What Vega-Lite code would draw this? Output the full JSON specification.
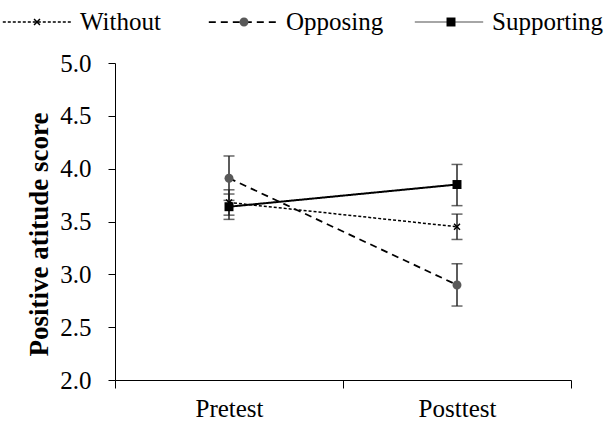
{
  "$schema": "https://vega.github.io/schema/vega-lite/v6.json",
  "width": 456,
  "height": 317,
  "autosize": "none",
  "padding": {"left": 115, "top": 63, "right": 40, "bottom": 43},
  "background": "white",
  "config": {
    "font": "Liberation Serif",
    "view": {"stroke": null},
    "axis": {"grid": false, "domainColor": "black", "tickColor": "black", "labelColor": "black", "titleColor": "black", "labelFont": "Liberation Serif", "titleFont": "Liberation Serif"},
    "legend": {"labelColor": "black", "labelFont": "Liberation Serif"}
  },
  "data": {
    "values": [
      {"group": "Without", "time": "Pretest", "mean": 3.68, "lower": 3.56, "upper": 3.80},
      {"group": "Without", "time": "Posttest", "mean": 3.45, "lower": 3.33, "upper": 3.57},
      {"group": "Opposing", "time": "Pretest", "mean": 3.91, "lower": 3.70, "upper": 4.12},
      {"group": "Opposing", "time": "Posttest", "mean": 2.90, "lower": 2.70, "upper": 3.10},
      {"group": "Supporting", "time": "Pretest", "mean": 3.64, "lower": 3.52, "upper": 3.76},
      {"group": "Supporting", "time": "Posttest", "mean": 3.85, "lower": 3.65, "upper": 4.04}
    ]
  },
  "encoding": {
    "x": {
      "field": "time", "type": "nominal",
      "scale": {"type": "band", "domain": ["Pretest", "Posttest"], "paddingInner": 0, "paddingOuter": 0},
      "axis": {"title": null, "labelAngle": 0, "tickBand": "extent", "tickSize": 8, "labelFontSize": 25, "labelPadding": 8, "domainWidth": 1}
    }
  },
  "layer": [
    {
      "mark": {"type": "errorbar", "ticks": {"size": 11, "thickness": 1.5, "color": "#262626"}, "rule": {"strokeWidth": 1.5, "color": "#262626"}},
      "encoding": {
        "y": {"field": "lower", "type": "quantitative", "scale": {"domain": [2, 5], "nice": false, "zero": false},
          "axis": {"values": [2, 2.5, 3, 3.5, 4, 4.5, 5], "format": ".1f", "labelFontSize": 25, "labelPadding": 17, "tickSize": 7,
            "title": "Positive atitude score", "titleFontSize": 27, "titleFontWeight": "bold", "titleX": -62, "titleY": 171}},
        "y2": {"field": "upper"}
      }
    },
    {
      "mark": {"type": "line", "strokeOpacity": 0},
      "encoding": {
        "y": {"field": "mean", "type": "quantitative"},
        "strokeDash": {
          "field": "group", "type": "nominal",
          "scale": {"domain": ["Without", "Opposing", "Supporting"], "range": [[3, 2], [7, 5], [1, 0]]},
          "legend": {
            "title": null, "orient": "none", "legendX": -117, "legendY": -80, "direction": "horizontal",
            "gridAlign": "all", "columnPadding": 12, "labelOffset": 4, "symbolSize": 5776, "symbolStrokeWidth": 1.5,
            "symbolType": "M-0.9,0H0.9", "labelFontSize": 25
          }
        },
        "stroke": {
          "field": "group", "type": "nominal",
          "scale": {"domain": ["Without", "Opposing", "Supporting"], "range": ["#000000", "#000000", "#a6a6a6"]}
        },
        "strokeWidth": {
          "field": "group", "type": "nominal",
          "scale": {"domain": ["Without", "Opposing", "Supporting"], "range": [1.5, 2, 2.75]}
        }
      }
    },
    {
      "mark": {"type": "line", "color": "black"},
      "encoding": {
        "y": {"field": "mean", "type": "quantitative"},
        "strokeDash": {"field": "group", "type": "nominal"},
        "strokeWidth": {"field": "group", "type": "nominal"}
      }
    },
    {
      "mark": {"type": "point", "filled": true, "size": 5776, "opacity": 1},
      "encoding": {
        "y": {"field": "mean", "type": "quantitative"},
        "shape": {
          "field": "group", "type": "nominal",
          "scale": {"domain": ["Opposing", "Supporting", "Without"],
            "range": ["M-0.118,0A0.118,0.118 0 1,0 0.118,0A0.118,0.118 0 1,0 -0.118,0Z", "M-0.118,-0.118H0.118V0.118H-0.118Z", "M-0.092,-0.064L-0.064,-0.092L0.092,0.064L0.064,0.092ZM0.064,-0.092L0.092,-0.064L-0.064,0.092L-0.092,0.064Z"]},
          "legend": {
            "title": null, "orient": "none", "legendX": -117, "legendY": -80, "direction": "horizontal",
            "values": ["Without", "Opposing", "Supporting"],
            "gridAlign": "all", "columnPadding": 125, "labelOffset": 4, "symbolSize": 5776, "symbolStrokeWidth": 1.5,
            "labelFontSize": 25, "labelExpr": "''"
          }
        },
        "fill": {
          "field": "group", "type": "nominal",
          "scale": {"domain": ["Opposing", "Supporting", "Without"], "range": ["#595959", "#000000", "#000000"]}
        }
      }
    }
  ]
}
